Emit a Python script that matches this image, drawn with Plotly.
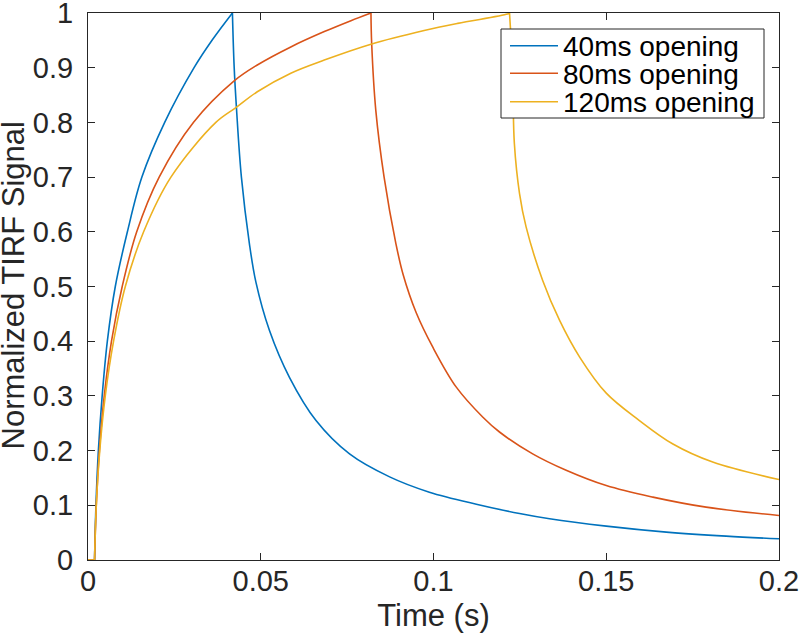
import plotly.graph_objects as go

# ---- data ----
t_40 = [0.0, 0.0019, 0.0023, 0.0030, 0.0041, 0.0056, 0.0079, 0.0114, 0.0156, 0.0222,
        0.0307, 0.0360, 0.0418, 0.0423, 0.0430, 0.0444, 0.0467, 0.0486, 0.0525, 0.0583,
        0.0660, 0.0757, 0.0873, 0.0988, 0.1124, 0.1249, 0.1336, 0.1500, 0.1674, 0.1847, 0.2000]
v_40 = [0.0, 0.0, 0.10, 0.20, 0.30, 0.40, 0.50, 0.60, 0.70, 0.80,
        0.90, 0.951, 1.0, 0.902, 0.823, 0.700, 0.579, 0.508, 0.420, 0.334,
        0.255, 0.194, 0.152, 0.124, 0.102, 0.0850, 0.0754, 0.062, 0.051, 0.0436, 0.0388]

t_80 = [0.0, 0.0019, 0.0024, 0.0033, 0.0047, 0.0068, 0.0099, 0.0141, 0.0206, 0.0305,
        0.0423, 0.0490, 0.0587, 0.0684, 0.0761, 0.0819, 0.0821, 0.0833, 0.0857, 0.0891,
        0.0912, 0.0950, 0.0998, 0.1066, 0.1143, 0.1191, 0.1287, 0.1384, 0.1500, 0.1635,
        0.1789, 0.2000]
v_80 = [0.0, 0.0, 0.10, 0.20, 0.30, 0.40, 0.50, 0.60, 0.70, 0.80,
        0.876, 0.905, 0.938, 0.966, 0.986, 1.0, 0.945, 0.822, 0.700, 0.579,
        0.522, 0.452, 0.389, 0.316, 0.261, 0.234, 0.194, 0.164, 0.136, 0.115,
        0.0966, 0.0814]

t_120 = [0.0, 0.0019, 0.0024, 0.0034, 0.0050, 0.0074, 0.0108, 0.0161, 0.0240, 0.0370,
         0.0428, 0.0490, 0.0587, 0.0684, 0.0819, 0.0973, 0.1070, 0.1214, 0.1220, 0.1225,
         0.1230, 0.1234, 0.1249, 0.1268, 0.1316, 0.1365, 0.1423, 0.1500, 0.1596, 0.1693,
         0.1808, 0.2000]
v_120 = [0.0, 0.0, 0.10, 0.20, 0.30, 0.40, 0.50, 0.60, 0.70, 0.80,
         0.827, 0.856, 0.890, 0.914, 0.943, 0.968, 0.981, 0.998, 1.0, 0.945,
         0.853, 0.762, 0.670, 0.609, 0.511, 0.438, 0.371, 0.305, 0.255, 0.212,
         0.179, 0.147]

series_names = ["40ms opening", "80ms opening", "120ms opening"]
series_colors = ["#0072BD", "#D95319", "#EDB120"]

x_ticks = [0, 0.05, 0.1, 0.15, 0.2]
x_ticktext = ["0", "0.05", "0.1", "0.15", "0.2"]
y_ticks = [0, 0.1, 0.2, 0.3, 0.4, 0.5, 0.6, 0.7, 0.8, 0.9, 1.0]
y_ticktext = ["0", "0.1", "0.2", "0.3", "0.4", "0.5", "0.6", "0.7", "0.8", "0.9", "1"]
x_title = "Time (s)"
y_title = "Normalized TIRF Signal"

FONT = "Liberation Sans, Arial, Helvetica, sans-serif"
AX = "#262626"
W, H = 800, 633
ML, MR, MT, MB = 88, 21, 13, 73

fig = go.Figure()
for (tx, vy), name, col in zip([(t_40, v_40), (t_80, v_80), (t_120, v_120)],
                               series_names, series_colors):
    start = vy.index(0.0, 1)          # end of the flat zero part
    peak = vy.index(max(vy))          # switch-off instant
    pieces = [(0, start + 1, "linear"), (start, peak + 1, "spline"), (peak, len(tx), "spline")]
    for a, b, shp in pieces:
        fig.add_trace(go.Scatter(x=tx[a:b], y=vy[a:b], mode="lines", name=name,
                                 legendgroup=name, showlegend=False,
                                 line=dict(color=col, width=1.6, shape=shp, smoothing=1.0)))

axis_common = dict(showline=True, linecolor=AX, linewidth=1, mirror="ticks",
                   ticks="inside", ticklen=7, tickcolor=AX, tickwidth=1,
                   showgrid=False, zeroline=False, ticklabeloverflow="allow",
                   tickfont=dict(family=FONT, size=29, color=AX))

fig.update_xaxes(range=[0, 0.2], tickvals=x_ticks, ticktext=x_ticktext,
                 title=dict(text=x_title, font=dict(family=FONT, size=31, color=AX), standoff=8),
                 ticklabelstandoff=-5, **axis_common)
fig.update_yaxes(range=[0, 1], tickvals=y_ticks, ticktext=y_ticktext,
                 ticklabelstandoff=8, **axis_common)

pw, ph = W - ML - MR, H - MT - MB
def px(x):
    return (x - ML) / pw
def py(y):
    return (H - MB - y) / ph

# y-axis title (placed as rotated text so it can sit as close to the edge as in the reference)
fig.add_annotation(text=y_title, xref="paper", yref="paper", x=px(13), y=py(285.5),
                   xanchor="center", yanchor="middle", textangle=-90, showarrow=False,
                   font=dict(family=FONT, size=31, color=AX))

# legend box drawn like the MATLAB legend (pixel layout converted to paper coords)
box = dict(x0=501, x1=764, y0=29, y1=118)
row_y = [45.7, 73.3, 101.7]
fig.add_shape(type="rect", xref="paper", yref="paper",
              x0=px(box["x0"]), x1=px(box["x1"]), y0=py(box["y1"]), y1=py(box["y0"]),
              line=dict(color=AX, width=1), fillcolor="white", layer="above")
for name, col, ry in zip(series_names, series_colors, row_y):
    fig.add_shape(type="line", xref="paper", yref="paper",
                  x0=px(510), x1=px(558), y0=py(ry), y1=py(ry),
                  line=dict(color=col, width=1.6), layer="above")
    fig.add_annotation(text=name, xref="paper", yref="paper", x=px(561), y=py(ry + 1),
                       xanchor="left", yanchor="middle", showarrow=False,
                       font=dict(family=FONT, size=28, color="black"))

fig.update_layout(
    width=W, height=H,
    margin=dict(l=ML, r=MR, t=MT, b=MB, autoexpand=False),
    paper_bgcolor="white", plot_bgcolor="white",
    showlegend=False,
)

fig.write_html("out.html", config={"displayModeBar": False},
               post_script="document.body.style.margin='0';")
